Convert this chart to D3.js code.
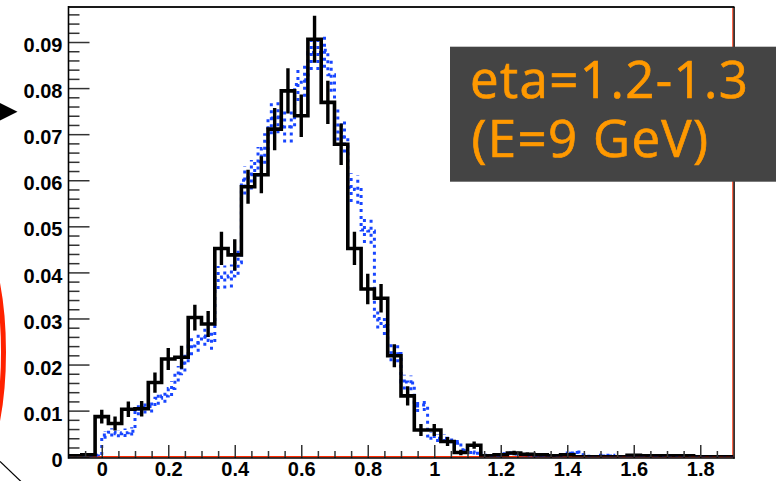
<!DOCTYPE html>
<html>
<head>
<meta charset="utf-8">
<script src="https://cdn.jsdelivr.net/npm/d3@7/dist/d3.min.js"></script>
<style>
  html, body { margin: 0; padding: 0; background: #fff; overflow: hidden; }
  svg { display: block; }
</style>
</head>
<body>
<svg id="chart" width="776" height="481"></svg>
<script>
// Histogram range shared by both distributions
const histRange = [-0.1, 1.9];

// Data histogram: 50 bins of 0.04 (bin contents and their errors)
const dataValues = [
  0.0002, 0.0004, 0.0087, 0.0072, 0.0103, 0.0104, 0.0161, 0.0212, 0.0216, 0.0302,
  0.0288, 0.0452, 0.0438, 0.0586, 0.0612, 0.0711, 0.0794, 0.0740, 0.0906, 0.0769,
  0.0678, 0.0452, 0.0364, 0.0344, 0.0219, 0.0132, 0.0058, 0.0058, 0.0033, 0.0009,
  0.0025, 0.0002, 0.0004, 0.0008, 0.0005, 0.0004, 0.0002, 0.0004, 0, 0,
  0, 0, 0.0003, 0.0002, 0.0002, 0.0002, 0.0002, 0, 0, 0
];
const dataErrors = [
  0.0002, 0.0003, 0.0015, 0.0015, 0.0017, 0.0017, 0.0022, 0.0024, 0.0025, 0.0028,
  0.0028, 0.0036, 0.0034, 0.0037, 0.0040, 0.0046, 0.0049, 0.0046, 0.0051, 0.0047,
  0.0045, 0.0036, 0.0033, 0.0031, 0.0025, 0.0021, 0.0013, 0.0013, 0.0010, 0.0006,
  0.0008, 0.0002, 0.0003, 0.0005, 0.0004, 0.0003, 0.0002, 0.0003, 0, 0,
  0, 0, 0.0003, 0.0002, 0.0002, 0.0002, 0.0002, 0, 0, 0
];

// Reference histogram: 100 bins of 0.02
const refValues = [
  0, 0, 0.0001, 0.0002, 0.0003, 0.0047, 0.0053, 0.0050, 0.0052, 0.0055,
  0.0103, 0.0107, 0.0109, 0.0127, 0.0132, 0.0148, 0.0180, 0.0203, 0.0240, 0.0248,
  0.0262, 0.0252, 0.0389, 0.0390, 0.0392, 0.0421, 0.0600, 0.0612, 0.0640, 0.0669,
  0.0735, 0.0737, 0.0716, 0.0716, 0.0808, 0.0818, 0.0877, 0.0877, 0.0882, 0.0829,
  0.0720, 0.0694, 0.0584, 0.0580, 0.0492, 0.0490, 0.0300, 0.0285, 0.0226, 0.0224,
  0.0162, 0.0160, 0.0110, 0.0112, 0.0045, 0.0040, 0.0040, 0.0036, 0.0033, 0.0015,
  0.0010, 0.0008, 0.0003, 0.0002, 0.0002, 0.0006, 0.0008, 0.0006, 0.0004, 0.0003,
  0.0002, 0.0001, 0, 0.0002, 0.0003, 0.0008, 0.0010, 0.0004, 0.0001, 0,
  0.0003, 0.0003, 0, 0, 0.0001, 0.0001, 0.0001, 0.0001, 0.0001, 0.0001,
  0.0001, 0.0001, 0, 0, 0, 0, 0, 0, 0, 0
];
const refErrors = [
  0, 0, 0.0001, 0.0002, 0.0002, 0.0008, 0.0009, 0.0008, 0.0009, 0.0009,
  0.0013, 0.0013, 0.0013, 0.0014, 0.0015, 0.0016, 0.0017, 0.0018, 0.0020, 0.0020,
  0.0021, 0.0020, 0.0025, 0.0025, 0.0025, 0.0026, 0.0031, 0.0032, 0.0032, 0.0033,
  0.0035, 0.0035, 0.0034, 0.0034, 0.0036, 0.0037, 0.0038, 0.0038, 0.0038, 0.0037,
  0.0034, 0.0034, 0.0031, 0.0031, 0.0028, 0.0028, 0.0022, 0.0021, 0.0019, 0.0019,
  0.0016, 0.0016, 0.0013, 0.0013, 0.0008, 0.0008, 0.0008, 0.0007, 0.0007, 0.0005,
  0.0004, 0.0004, 0.0002, 0.0002, 0.0002, 0.0003, 0.0004, 0.0003, 0.0003, 0.0002,
  0.0002, 0.0001, 0, 0.0002, 0.0002, 0.0004, 0.0004, 0.0003, 0.0001, 0,
  0.0002, 0.0002, 0, 0, 0.0001, 0.0001, 0.0001, 0.0001, 0.0001, 0.0001,
  0.0001, 0.0001, 0, 0, 0, 0, 0, 0, 0, 0
];

// Axis ticks and labels
const yTickValues = [0, 0.01, 0.02, 0.03, 0.04, 0.05, 0.06, 0.07, 0.08, 0.09];
const yTickLabels = ["0", "0.01", "0.02", "0.03", "0.04", "0.05", "0.06", "0.07", "0.08", "0.09"];
const xTickValues = [0, 0.2, 0.4, 0.6, 0.8, 1.0, 1.2, 1.4, 1.6, 1.8];
const xTickLabels = ["0", "0.2", "0.4", "0.6", "0.8", "1", "1.2", "1.4", "1.6", "1.8"];

const noteLines = ["eta=1.2-1.3", "(E=9 GeV)"];

// ---- layout ----
const frame = { left: 68.5, right: 733.5, top: 7, bottom: 456.7 };
const svg = d3.select("#chart");

const x = d3.scaleLinear().domain(histRange).range([frame.left, frame.right]);
const y = d3.scaleLinear().domain([0, 0.0976]).range([frame.bottom, frame.top]);

svg.append("defs").append("clipPath").attr("id", "plotClip")
  .append("rect")
  .attr("x", frame.left).attr("y", frame.top)
  .attr("width", frame.right - frame.left)
  .attr("height", frame.bottom - frame.top);

// red baseline and right edge
svg.append("line")
  .attr("x1", frame.left).attr("x2", frame.right)
  .attr("y1", y(0)).attr("y2", y(0))
  .attr("stroke", "#ff2a00").attr("stroke-width", 1.6);
svg.append("line")
  .attr("x1", frame.right - 0.6).attr("x2", frame.right - 0.6)
  .attr("y1", frame.top).attr("y2", frame.bottom)
  .attr("stroke", "#ff2a00").attr("stroke-width", 1.2);

// step outline for a histogram
function stepPoints(values) {
  const n = values.length;
  const w = (histRange[1] - histRange[0]) / n;
  const pts = [];
  values.forEach((v, i) => {
    const lo = histRange[0] + i * w, hi = lo + w;
    pts.push([lo, v], [hi, v]);
  });
  return pts;
}
function centers(values) {
  const n = values.length;
  const w = (histRange[1] - histRange[0]) / n;
  return values.map((v, i) => histRange[0] + (i + 0.5) * w);
}
const stepLine = d3.line().x(d => x(d[0])).y(d => y(d[1]));

const plot = svg.append("g").attr("clip-path", "url(#plotClip)");

// reference distribution (blue dotted)
const refColor = "#1846ff";
plot.append("path")
  .attr("d", stepLine(stepPoints(refValues)))
  .attr("fill", "none")
  .attr("stroke", refColor)
  .attr("stroke-width", 3)
  .attr("stroke-dasharray", "3,4");
const refC = centers(refValues);
plot.append("g").selectAll("line")
  .data(refValues.map((v, i) => ({ c: refC[i], v, e: refErrors[i] })).filter(d => d.v > 0 && d.e > 0))
  .join("line")
  .attr("x1", d => x(d.c)).attr("x2", d => x(d.c))
  .attr("y1", d => y(d.v - d.e)).attr("y2", d => y(d.v + d.e))
  .attr("stroke", refColor)
  .attr("stroke-width", 3)
  .attr("stroke-dasharray", "3,4");

// data distribution (black, with error bars)
plot.append("path")
  .attr("d", stepLine(stepPoints(dataValues)))
  .attr("fill", "none")
  .attr("stroke", "#000")
  .attr("stroke-width", 3.6)
  .attr("stroke-linejoin", "miter");
const dataC = centers(dataValues);
plot.append("g").selectAll("line")
  .data(dataValues.map((v, i) => ({ c: dataC[i], v, e: dataErrors[i] })).filter(d => d.v > 0))
  .join("line")
  .attr("x1", d => x(d.c)).attr("x2", d => x(d.c))
  .attr("y1", d => y(d.v - d.e)).attr("y2", d => y(d.v + d.e))
  .attr("stroke", "#000")
  .attr("stroke-width", 3.4);

// ---- axes ----
const axisFont = "'Liberation Sans', Arial, Helvetica, sans-serif";

// y axis: major ticks with labels, minor ticks every 0.002
const yMinor = d3.range(0, 0.0961, 0.002).filter(v => Math.abs(v * 100 - Math.round(v * 100)) > 1e-6);
const yMinorAxis = svg.append("g").attr("transform", `translate(${frame.left},0)`)
  .call(d3.axisLeft(y).tickValues(yMinor).tickFormat("").tickSizeInner(-11).tickSizeOuter(0));
const yAxis = svg.append("g").attr("transform", `translate(${frame.left},0)`)
  .call(d3.axisLeft(y).tickValues(yTickValues).tickFormat((d, i) => yTickLabels[i])
    .tickSizeInner(-21).tickSizeOuter(0).tickPadding(6));
yAxis.selectAll("text")
  .attr("dy", "0.48em")
  .style("font-family", axisFont).style("font-weight", "bold")
  .style("font-size", "20px").attr("fill", "#000");

// x axis: major ticks every 0.2, minor every 0.05
const xMinor = d3.range(-0.05, 1.9, 0.05).filter(v => Math.abs(v * 5 - Math.round(v * 5)) > 1e-6);
const xMinorAxis = svg.append("g").attr("transform", `translate(0,${frame.bottom + 1.3})`)
  .call(d3.axisBottom(x).tickValues(xMinor).tickFormat("").tickSizeInner(-7).tickSizeOuter(0));
const xAxis = svg.append("g").attr("transform", `translate(0,${frame.bottom + 1.3})`)
  .call(d3.axisBottom(x).tickValues(xTickValues).tickFormat((d, i) => xTickLabels[i])
    .tickSizeInner(-13).tickSizeOuter(0).tickPadding(3.5));
xAxis.selectAll("text")
  .style("font-family", axisFont).style("font-weight", "bold")
  .style("font-size", "20px").attr("fill", "#000");

[yMinorAxis, yAxis, xMinorAxis, xAxis].forEach(g => {
  g.select(".domain").remove();
  g.selectAll(".tick line").attr("stroke", "#333").attr("stroke-width", 1.5);
});

// frame lines
svg.append("line").attr("x1", frame.left).attr("x2", frame.right + 1)
  .attr("y1", frame.top).attr("y2", frame.top)
  .attr("stroke", "#1a1a1a").attr("stroke-width", 1.8);
svg.append("line").attr("x1", frame.left).attr("x2", frame.left)
  .attr("y1", frame.top - 0.9).attr("y2", frame.bottom + 2)
  .attr("stroke", "#000").attr("stroke-width", 1.6);
svg.append("line").attr("x1", frame.left).attr("x2", frame.right + 1)
  .attr("y1", frame.bottom + 1.3).attr("y2", frame.bottom + 1.3)
  .attr("stroke", "#000").attr("stroke-width", 1.6);
svg.append("line").attr("x1", frame.right + 0.6).attr("x2", frame.right + 0.6)
  .attr("y1", frame.top).attr("y2", frame.bottom + 2)
  .attr("stroke", "#000").attr("stroke-width", 1.4);

// ---- label box ----
svg.append("rect")
  .attr("x", 450).attr("y", 46.7)
  .attr("width", 330).attr("height", 135)
  .attr("fill", "#444444");
const noteFont = "'Open Sans', 'Noto Sans', sans-serif";
const noteWidths = [278, 236.6];
const noteBaselines = [98.3, 156.7];
svg.append("g").selectAll("text")
  .data(noteLines)
  .join("text")
  .attr("x", (d, i) => i === 0 ? 470 : 471.5)
  .attr("y", (d, i) => noteBaselines[i])
  .attr("textLength", (d, i) => noteWidths[i])
  .attr("lengthAdjust", "spacing")
  .style("font-family", noteFont)
  .style("font-size", "51px")
  .attr("fill", "#ff9900")
  .attr("stroke", "#ff9900")
  .attr("stroke-width", 0.7)
  .text(d => d);

// ---- pointer marks at the left margin ----
svg.append("path")
  .attr("d", "M-4,101 L17.5,111.7 L-4,122.5 Z")
  .attr("fill", "#000");
svg.append("ellipse")
  .attr("cx", -51.5).attr("cy", 352)
  .attr("rx", 55).attr("ry", 150)
  .attr("fill", "none")
  .attr("stroke", "#ff2200")
  .attr("stroke-width", 5);
svg.append("line")
  .attr("x1", 0).attr("y1", 461.5).attr("x2", 21).attr("y2", 481.5)
  .attr("stroke", "#000").attr("stroke-width", 1.2);
</script>
</body>
</html>
